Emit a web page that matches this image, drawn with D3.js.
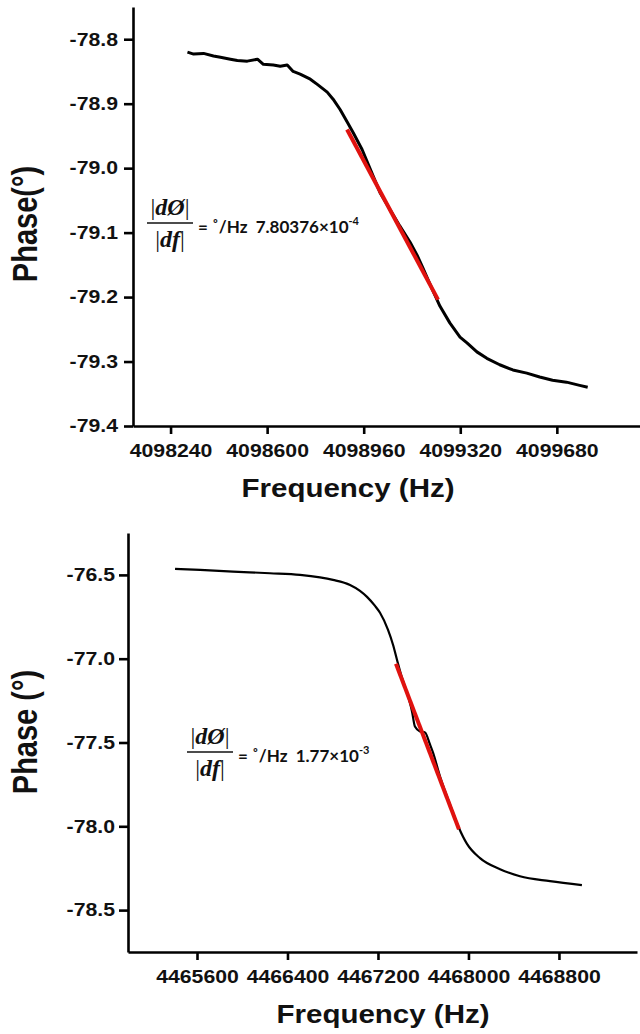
<!DOCTYPE html>
<html>
<head>
<meta charset="utf-8">
<script src="https://cdn.jsdelivr.net/npm/d3@7"></script>
<style>
body { margin: 0; background: #ffffff; }
</style>
</head>
<body>
<div id="chart"></div>
<script>
// top panel: phase vs frequency
var freqTop = [4098303, 4098326, 4098363, 4098400, 4098426, 4098463, 4098489, 4098526, 4098564, 4098586,
    4098623, 4098649, 4098675, 4098697, 4098723, 4098761, 4098787, 4098824, 4098846, 4098872,
    4098898, 4098921, 4098954, 4099021, 4099058, 4099095, 4099133, 4099159, 4099181, 4099207,
    4099244, 4099281, 4099319, 4099345, 4099382, 4099419, 4099467, 4099516, 4099568, 4099616,
    4099664, 4099716, 4099765, 4099795];
var phaseTop = [-78.820, -78.823, -78.822, -78.826, -78.828, -78.831, -78.833, -78.834, -78.831, -78.839,
    -78.840, -78.842, -78.840, -78.850, -78.854, -78.862, -78.870, -78.882, -78.893, -78.909,
    -78.928, -78.945, -78.971, -79.038, -79.064, -79.090, -79.115, -79.135, -79.155, -79.180,
    -79.214, -79.240, -79.262, -79.271, -79.285, -79.295, -79.305, -79.313, -79.318, -79.324,
    -79.329, -79.332, -79.337, -79.340];
var fitTopFreq = [4098898, 4099237];
var fitTopPhase = [-78.940, -79.204];
var xTicksTop = [4098240, 4098600, 4098960, 4099320, 4099680];
var yTicksTop = [-78.8, -78.9, -79.0, -79.1, -79.2, -79.3, -79.4];

// bottom panel
var freqBot = [4465406, 4465627, 4465918, 4466245, 4466511, 4466687, 4466802, 4466953, 4467041, 4467103,
    4467174, 4467218, 4467288, 4467333, 4467368, 4467412, 4467456, 4467501, 4467527, 4467571,
    4467616, 4467660, 4467686, 4467748, 4467836, 4467916, 4467987, 4468102, 4468279, 4468455,
    4468721, 4469003];
var phaseBot = [-76.464, -76.470, -76.480, -76.490, -76.500, -76.515, -76.530, -76.560, -76.595, -76.631,
    -76.685, -76.726, -76.827, -76.917, -77.006, -77.113, -77.202, -77.315, -77.405, -77.434,
    -77.440, -77.512, -77.559, -77.702, -77.869, -78.010, -78.105, -78.190, -78.256, -78.298,
    -78.327, -78.351];
var fitBotFreq = [4467359, 4467916];
var fitBotPhase = [-77.030, -78.018];
var xTicksBot = [4465600, 4466400, 4467200, 4468000, 4468800];
var yTicksBot = [-76.5, -77.0, -77.5, -78.0, -78.5];

var font = "'Liberation Sans', Arial, sans-serif";
var stretch = 1.18;

var svg = d3.select("#chart")
    .append("svg")
    .attr("width", 640)
    .attr("height", 1034);

function drawPanel(p) {
    var x = d3.scaleLinear().domain(p.xDomain).range([p.left, p.right]);
    var y = d3.scaleLinear().domain(p.yDomain).range([p.bottom, p.top]);

    var xAxis = svg.append("g")
        .attr("transform", "translate(0," + p.bottom + ")")
        .call(d3.axisBottom(x).tickValues(p.xTicks).tickSize(8).tickSizeOuter(0)
            .tickPadding(10).tickFormat(d3.format("d")));
    var yAxis = svg.append("g")
        .attr("transform", "translate(" + p.left + ",0)")
        .call(d3.axisLeft(y).tickValues(p.yTicks).tickSize(9).tickSizeOuter(0)
            .tickFormat(d3.format(".1f")));

    [xAxis, yAxis].forEach(function (ax) {
        ax.select(".domain").attr("stroke", "#000").attr("stroke-width", 2.6);
        ax.selectAll(".tick line").attr("stroke", "#000").attr("stroke-width", 2.6);
        ax.selectAll("text")
            .attr("font-family", font)
            .attr("font-weight", "bold")
            .attr("font-size", "18px")
            .attr("fill", "#111");
    });
    xAxis.selectAll("text").attr("transform", "scale(" + stretch + ",1)");
    yAxis.selectAll("text")
        .attr("x", 0)
        .attr("transform", "translate(" + p.yLabelOff + ",0) scale(" + stretch + ",1)")
        .text(function (d) { return d3.format(".1f")(d).replace("\u2212", "-"); });

    var line = d3.line()
        .curve(p.curve)
        .x(function (d) { return x(d[0]); })
        .y(function (d) { return y(d[1]); });

    svg.append("path")
        .datum(d3.zip(p.freq, p.phase))
        .attr("d", line)
        .attr("fill", "none")
        .attr("stroke", "#000")
        .attr("stroke-width", p.lineW)
        .attr("stroke-linejoin", "round");

    svg.append("path")
        .datum(d3.zip(p.fitFreq, p.fitPhase))
        .attr("d", d3.line().x(function (d) { return x(d[0]); }).y(function (d) { return y(d[1]); }))
        .attr("fill", "none")
        .attr("stroke", "#e0120f")
        .attr("stroke-width", 4);

    // axis titles
    svg.append("text")
        .attr("transform", "translate(" + p.xTitle[0] + "," + p.xTitle[1] + ") scale(" + stretch + ",1)")
        .attr("text-anchor", "middle")
        .attr("font-family", font)
        .attr("font-weight", "bold")
        .attr("font-size", "25px")
        .attr("fill", "#111")
        .text("Frequency (Hz)");
    svg.append("text")
        .attr("transform", "translate(" + p.yTitle[0] + "," + p.yTitle[1] + ") scale(" + stretch + ",1) rotate(-90)")
        .attr("text-anchor", "middle")
        .attr("font-family", font)
        .attr("font-weight", "bold")
        .attr("font-size", "29px")
        .attr("fill", "#111")
        .text(p.yLabel);

    // slope annotation
    var cx = p.frac[0], ly = p.frac[1];
    var num = svg.append("text")
        .attr("x", cx).attr("y", ly - 8)
        .attr("text-anchor", "middle")
        .attr("font-family", "'Liberation Serif', 'DejaVu Serif', serif")
        .attr("font-size", "24px")
        .attr("fill", "#111");
    num.append("tspan").text("|");
    num.append("tspan").attr("font-style", "italic").attr("font-weight", "bold").text("d\u00d8");
    num.append("tspan").text("|");
    var den = svg.append("text")
        .attr("x", cx).attr("y", ly + 24)
        .attr("text-anchor", "middle")
        .attr("font-family", "'Liberation Serif', 'DejaVu Serif', serif")
        .attr("font-size", "24px")
        .attr("fill", "#111");
    den.append("tspan").text("|");
    den.append("tspan").attr("font-style", "italic").attr("font-weight", "bold").text("df");
    den.append("tspan").text("|");
    svg.append("line")
        .attr("x1", cx - 23).attr("x2", cx + 23)
        .attr("y1", ly).attr("y2", ly)
        .attr("stroke", "#111")
        .attr("stroke-width", 1.4);
    var eq = svg.append("text")
        .attr("x", cx + 28).attr("y", ly + 10)
        .attr("font-family", "Lato, 'Open Sans', sans-serif")
        .attr("font-weight", "bold")
        .attr("font-size", "17px")
        .attr("fill", "#111")
        .attr("xml:space", "preserve");
    eq.append("tspan").text("= \u02da/Hz  " + p.slope + "\u00d710");
    eq.append("tspan").attr("dy", -8).attr("font-size", "11px").text(p.exp);
}

drawPanel({
    xDomain: [4098100, 4099990], yDomain: [-79.4, -78.75],
    left: 133, right: 640, top: 7, bottom: 426,
    xTicks: xTicksTop, yTicks: yTicksTop, yLabelOff: -15,
    freq: freqTop, phase: phaseTop, fitFreq: fitTopFreq, fitPhase: fitTopPhase,
    curve: d3.curveLinear,
    lineW: 3, xTitle: [348, 497], yTitle: [37, 224], yLabel: "Phase(\u00b0)",
    frac: [170, 223], slope: "7.80376", exp: "-4"
});

drawPanel({
    xDomain: [4464990, 4469490], yDomain: [-78.75, -76.25],
    left: 128, right: 637, top: 533, bottom: 952,
    xTicks: xTicksBot, yTicks: yTicksBot, yLabelOff: -13,
    freq: freqBot, phase: phaseBot, fitFreq: fitBotFreq, fitPhase: fitBotPhase,
    curve: d3.curveMonotoneX,
    lineW: 2.2, xTitle: [383, 1023], yTitle: [37, 732], yLabel: "Phase (\u00b0)",
    frac: [210, 752], slope: "1.77", exp: "-3"
});
</script>
</body>
</html>
